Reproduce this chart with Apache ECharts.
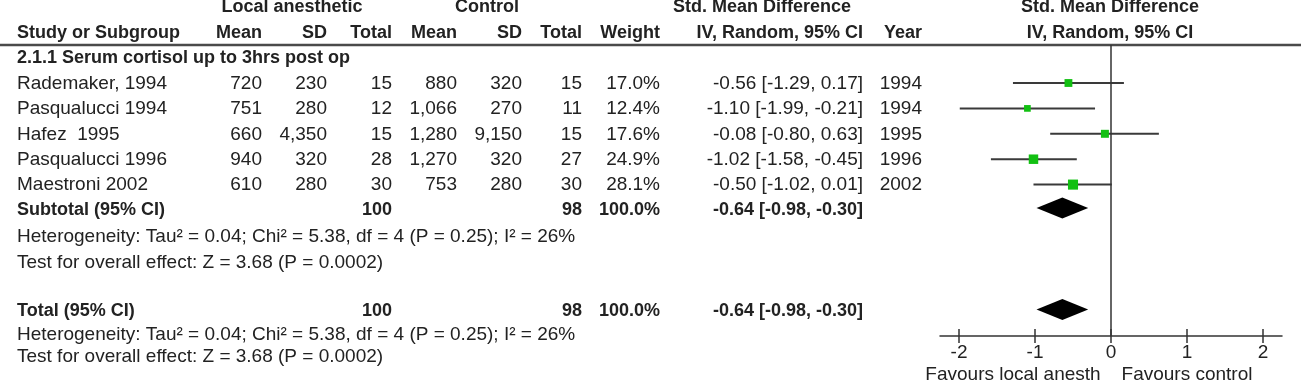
<!DOCTYPE html>
<html>
<head>
<meta charset="utf-8">
<script src="https://cdn.jsdelivr.net/npm/echarts@6/dist/echarts.min.js"></script>
<style>
html,body{margin:0;padding:0;background:#fff;}
#chart{width:1301px;height:382px;}
</style>
</head>
<body>
<div id="chart"></div>
<script>
// ---------- DATA ----------
const studies   = ['Rademaker, 1994', 'Pasqualucci 1994', 'Hafez  1995', 'Pasqualucci 1996', 'Maestroni 2002'];
const expMean   = [720, 751, 660, 940, 610];
const expSD     = [230, 280, 4350, 320, 280];
const expN      = [15, 12, 15, 28, 30];
const ctlMean   = [880, 1066, 1280, 1270, 753];
const ctlSD     = [320, 270, 9150, 320, 280];
const ctlN      = [15, 11, 15, 27, 30];
const weights   = [17.0, 12.4, 17.6, 24.9, 28.1];
const smd       = [-0.56, -1.10, -0.08, -1.02, -0.50];
const ciLow     = [-1.29, -1.99, -0.80, -1.58, -1.02];
const ciHigh    = [0.17, -0.21, 0.63, -0.45, 0.01];
const years     = [1994, 1994, 1995, 1996, 2002];
const pooled    = [-0.64, -0.98, -0.30];   // estimate, low, high
const pooledN   = [100, 98];
const pooledW   = 100.0;
const tickValues = [-2, -1, 0, 1, 2];
const subgroupTitle = '2.1.1 Serum cortisol up to 3hrs post op';
const hetText  = 'Heterogeneity: Tau² = 0.04; Chi² = 5.38, df = 4 (P = 0.25); I² = 26%';
const testText = 'Test for overall effect: Z = 3.68 (P = 0.0002)';
const favLeft  = 'Favours local anesth';
const favRight = 'Favours control';

// ---------- LAYOUT ----------
const W = 1301, H = 382;
const rowY0 = 83.5, rowH = 25.4;
const toRow = px => (px - rowY0) / rowH;
const FONT = '"Liberation Sans", Arial, Helvetica, sans-serif';
const TXT = '#222';
const col = {
  study: 17, eMean: 262, eSD: 327, eN: 392, cMean: 457, cSD: 522, cN: 582,
  weight: 660, ci: 863, year: 922, grpLocal: 292, grpCtl: 487, grpSmd: 762, plotC: 1110,
  favL: 1013, favR: 1187
};
const plot = { left: 940, right: 1282, top: 45, bottom: 336 };

const fmtN = v => v.toLocaleString('en-US');
const fmtCI = (e, l, h) => `${e.toFixed(2)} [${l.toFixed(2)}, ${h.toFixed(2)}]`;

const items = [];
const T = (text, x, r, align, bold) => items.push({ kind: 'text', text: String(text), x, r, align, bold });

// header rows
T('Local anesthetic', col.grpLocal, -3, 'center', true);
T('Control', col.grpCtl, -3, 'center', true);
T('Std. Mean Difference', col.grpSmd, -3, 'center', true);
T('Std. Mean Difference', col.plotC, -3, 'center', true);
T('Study or Subgroup', col.study, -2, 'left', true);
T('Mean', col.eMean, -2, 'right', true);
T('SD', col.eSD, -2, 'right', true);
T('Total', col.eN, -2, 'right', true);
T('Mean', col.cMean, -2, 'right', true);
T('SD', col.cSD, -2, 'right', true);
T('Total', col.cN, -2, 'right', true);
T('Weight', col.weight, -2, 'right', true);
T('IV, Random, 95% CI', col.ci, -2, 'right', true);
T('Year', col.year, -2, 'right', true);
T('IV, Random, 95% CI', col.plotC, -2, 'center', true);
items.push({ kind: 'hline', r: toRow(45) });
T(subgroupTitle, col.study, -1, 'left', true);

studies.forEach((s, i) => {
  T(s, col.study, i, 'left', false);
  T(fmtN(expMean[i]), col.eMean, i, 'right', false);
  T(fmtN(expSD[i]), col.eSD, i, 'right', false);
  T(fmtN(expN[i]), col.eN, i, 'right', false);
  T(fmtN(ctlMean[i]), col.cMean, i, 'right', false);
  T(fmtN(ctlSD[i]), col.cSD, i, 'right', false);
  T(fmtN(ctlN[i]), col.cN, i, 'right', false);
  T(weights[i].toFixed(1) + '%', col.weight, i, 'right', false);
  T(fmtCI(smd[i], ciLow[i], ciHigh[i]), col.ci, i, 'right', false);
  T(years[i], col.year, i, 'right', false);
});

const rSub = 5, rHet1 = 6.05, rTest1 = 7.07, rTot = 8.96, rHet2 = 9.9, rTest2 = 10.77;
function summaryRow(label, r) {
  T(label, col.study, r, 'left', true);
  T(pooledN[0], col.eN, r, 'right', true);
  T(pooledN[1], col.cN, r, 'right', true);
  T(pooledW.toFixed(1) + '%', col.weight, r, 'right', true);
  T(fmtCI(pooled[0], pooled[1], pooled[2]), col.ci, r, 'right', true);
}
summaryRow('Subtotal (95% CI)', rSub);
T(hetText, col.study, rHet1, 'left', false);
T(testText, col.study, rTest1, 'left', false);
summaryRow('Total (95% CI)', rTot);
T(hetText, col.study, rHet2, 'left', false);
T(testText, col.study, rTest2, 'left', false);
T(favLeft, col.favL, toRow(375), 'center', false);
T(favRight, col.favR, toRow(375), 'center', false);

const chart = echarts.init(document.getElementById('chart'), null, { renderer: 'canvas' });

const option = {
  animation: false,
  backgroundColor: '#fff',
  grid: [
    { left: 0, top: 0, width: W, height: H },
    { left: plot.left, top: plot.top, width: plot.right - plot.left, height: plot.bottom - plot.top }
  ],
  xAxis: [
    { gridIndex: 0, type: 'value', min: 0, max: W, show: false },
    { gridIndex: 1, type: 'value', min: -2.25, max: 2.25, position: 'bottom',
      axisLine: { show: true, onZero: false, lineStyle: { color: '#333', width: 1.5 } },
      axisTick: { show: true, customValues: tickValues, length: 7, inside: false, lineStyle: { color: '#333', width: 1.5 } },
      axisLabel: { show: true, customValues: tickValues, margin: 7, fontSize: 19, fontFamily: FONT, color: TXT },
      splitLine: { show: false } },
    { gridIndex: 1, type: 'value', min: -2.25, max: 2.25, position: 'bottom',
      axisLine: { show: false, onZero: false },
      axisTick: { show: true, customValues: tickValues, length: 7, inside: true, lineStyle: { color: '#333', width: 1.5 } },
      axisLabel: { show: false }, splitLine: { show: false } }
  ],
  yAxis: [
    { gridIndex: 0, type: 'value', min: toRow(0), max: toRow(H), inverse: true, show: false },
    { gridIndex: 1, type: 'value', min: toRow(plot.top), max: toRow(plot.bottom), inverse: true, show: false }
  ],
  series: [
    {
      type: 'custom', xAxisIndex: 0, yAxisIndex: 0, silent: true, clip: false,
      data: items.map(it => [it.kind === 'hline' ? 0 : it.x, it.r]),
      renderItem: (params, api) => {
        const it = items[params.dataIndex];
        if (it.kind === 'hline') {
          const a = api.coord([0, it.r]);
          const b = api.coord([W, it.r]);
          return { type: 'line', shape: { x1: a[0], y1: a[1], x2: b[0], y2: b[1] }, style: { stroke: '#4a4a4a', lineWidth: 2.5 } };
        }
        const p = api.coord([it.x, it.r]);
        return { type: 'text', x: p[0], y: p[1], style: {
          text: it.text, align: it.align, verticalAlign: 'middle',
          font: (it.bold ? 'bold 18px ' : '19px ') + FONT, fill: TXT } };
      }
    },
    {
      type: 'line', xAxisIndex: 1, yAxisIndex: 1, silent: true, symbol: 'none',
      data: [[0, toRow(plot.top)], [0, toRow(plot.bottom)]],
      lineStyle: { color: '#333', width: 1.5 }
    },
    {
      type: 'custom', xAxisIndex: 1, yAxisIndex: 1, silent: true, clip: false,
      encode: { x: [0, 1, 2], y: 3 },
      data: studies.map((s, i) => [ciLow[i], ciHigh[i], smd[i], i, weights[i]]),
      renderItem: (params, api) => {
        const r = api.value(3);
        const a = api.coord([api.value(0), r]);
        const b = api.coord([api.value(1), r]);
        const c = api.coord([api.value(2), r]);
        const s = 1.9 * Math.sqrt(api.value(4));
        const y = a[1] - 0.5;
        return { type: 'group', children: [
          { type: 'line', shape: { x1: a[0], y1: y, x2: b[0], y2: y }, style: { stroke: '#3a3a3a', lineWidth: 2 } },
          { type: 'rect', shape: { x: c[0] - s / 2, y: y - s / 2, width: s, height: s }, style: { fill: '#12c012' } }
        ] };
      }
    },
    {
      type: 'custom', xAxisIndex: 1, yAxisIndex: 1, silent: true, clip: false,
      encode: { x: [0, 1, 2], y: 3 },
      data: [[pooled[1], pooled[0], pooled[2], rSub - 0.1], [pooled[1], pooled[0], pooled[2], rTot - 0.06]],
      renderItem: (params, api) => {
        const r = api.value(3);
        const l = api.coord([api.value(0), r]);
        const e = api.coord([api.value(1), r]);
        const h = api.coord([api.value(2), r]);
        const hh = 10.5;
        return { type: 'polygon', shape: { points: [[l[0], l[1]], [e[0], e[1] - hh], [h[0], h[1]], [e[0], e[1] + hh]] },
          style: { fill: '#000' } };
      }
    }
  ]
};
chart.setOption(option);
</script>
</body>
</html>
